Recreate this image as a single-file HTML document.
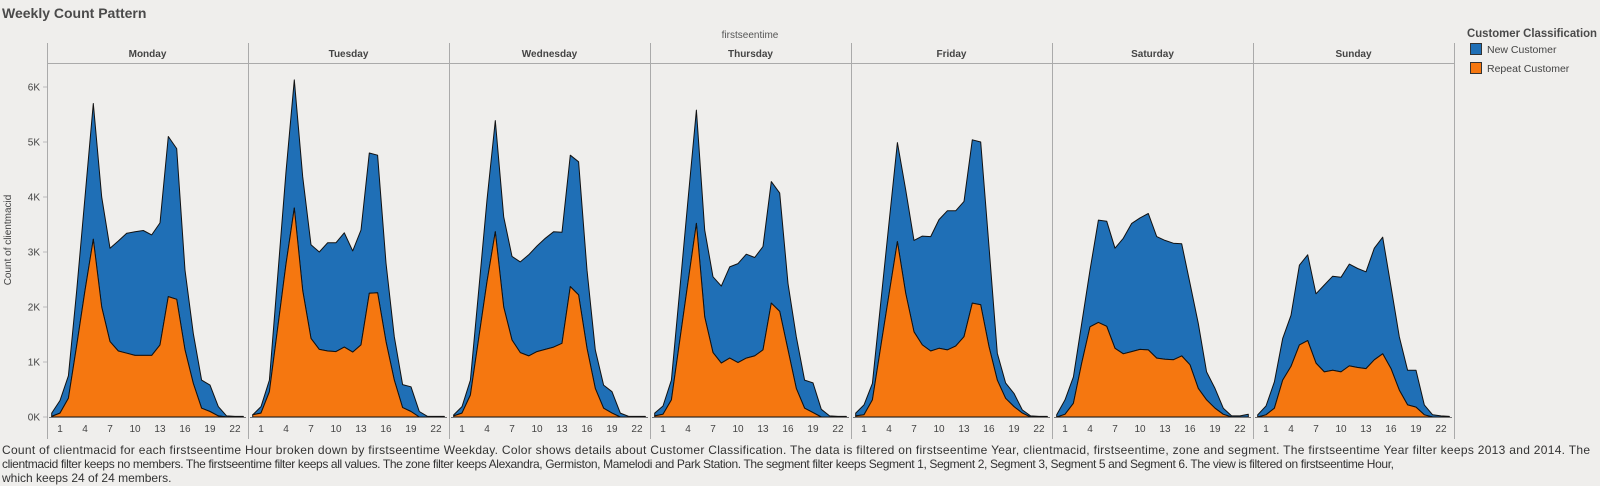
<!DOCTYPE html>
<html><head><meta charset="utf-8"><style>
html,body{margin:0;padding:0;background:#efeeec;}
svg{display:block;font-family:"Liberation Sans",Arial,sans-serif;}
</style></head><body>
<svg id="chart" width="1600" height="486" viewBox="0 0 1600 486">
<rect x="0" y="0" width="1600" height="486" fill="#efeeec"/>
<text x="2" y="18" font-size="14" font-weight="bold" fill="#4a4a4a">Weekly Count Pattern</text>
<text x="750" y="38" font-size="10" fill="#555" text-anchor="middle">firstseentime</text>
<text transform="translate(11,240) rotate(-90)" font-size="10" fill="#444" text-anchor="middle">Count of clientmacid</text>
<g id="legend">
<text x="1467" y="37" font-size="12" font-weight="bold" fill="#4a4a4a" textLength="130" lengthAdjust="spacingAndGlyphs">Customer Classification</text>
<rect x="1470.5" y="43.5" width="11" height="11" fill="#1f6fb6" stroke="#333"/>
<text x="1487" y="53" font-size="10.5" fill="#444">New Customer</text>
<rect x="1470.5" y="62.5" width="11" height="11" fill="#f57710" stroke="#333"/>
<text x="1487" y="72" font-size="10.5" fill="#444">Repeat Customer</text>
</g>
<g id="plot"></g>
<g font-size="12" fill="#333">
<text x="2" y="454" textLength="1588" lengthAdjust="spacing">Count of clientmacid for each firstseentime Hour broken down by firstseentime Weekday.  Color shows details about Customer Classification. The data is filtered on firstseentime Year, clientmacid, firstseentime, zone and segment. The firstseentime Year filter keeps 2013 and 2014. The</text>
<text x="2" y="468" textLength="1392" lengthAdjust="spacing">clientmacid filter keeps no members. The firstseentime filter keeps all values. The zone filter keeps Alexandra, Germiston, Mamelodi and Park Station. The segment filter keeps Segment 1, Segment 2, Segment 3, Segment 5 and Segment 6. The view is filtered on firstseentime Hour,</text>
<text x="2" y="482">which keeps 24 of 24 members.</text>
</g>
</svg>
<script>
const weekdays = ["Monday","Tuesday","Wednesday","Thursday","Friday","Saturday","Sunday"];
const hours = [0,1,2,3,4,5,6,7,8,9,10,11,12,13,14,15,16,17,18,19,20,21,22,23];
const xTickLabels = [1,4,7,10,13,16,19,22];
const yTickValues = [0,1,2,3,4,5,6];
const yTickLabels = ["0K","1K","2K","3K","4K","5K","6K"];
// stacked total (New + Repeat), thousands
const totalMonday    = [0.07,0.3,0.75,2.3,4.0,5.7,4.0,3.07,3.2,3.34,3.37,3.39,3.31,3.53,5.1,4.88,2.67,1.52,0.67,0.58,0.19,0.02,0.01,0.01];
const totalTuesday   = [0.04,0.19,0.67,2.56,4.46,6.13,4.37,3.13,3.0,3.17,3.17,3.35,3.02,3.4,4.8,4.76,2.8,1.46,0.59,0.55,0.1,0.01,0.01,0.01];
const totalWednesday = [0.04,0.19,0.67,2.3,3.95,5.39,3.64,2.92,2.82,2.95,3.11,3.25,3.37,3.36,4.76,4.64,2.67,1.22,0.58,0.46,0.07,0.01,0.01,0.01];
const totalThursday  = [0.07,0.2,0.67,2.3,3.95,5.58,3.4,2.55,2.38,2.73,2.79,2.96,2.9,3.1,4.28,4.07,2.43,1.46,0.67,0.62,0.14,0.02,0.01,0.01];
const totalFriday    = [0.07,0.22,0.61,2.07,3.53,4.99,4.13,3.21,3.29,3.28,3.59,3.75,3.75,3.92,5.04,5.0,3.1,1.16,0.62,0.43,0.13,0.02,0.01,0.01];
const totalSaturday  = [0.04,0.31,0.73,1.7,2.67,3.58,3.56,3.07,3.25,3.52,3.62,3.7,3.28,3.21,3.16,3.15,2.43,1.7,0.82,0.52,0.16,0.02,0.02,0.05];
const totalSunday    = [0.04,0.2,0.64,1.43,1.85,2.76,2.95,2.24,2.4,2.56,2.54,2.78,2.7,2.64,3.07,3.27,2.37,1.46,0.85,0.85,0.22,0.04,0.02,0.01];
// repeat customer, thousands
const repeatMonday    = [0.01,0.07,0.34,1.3,2.3,3.23,2.0,1.37,1.2,1.16,1.12,1.12,1.12,1.31,2.19,2.14,1.22,0.61,0.16,0.1,0.02,0,0,0];
const repeatTuesday   = [0.04,0.07,0.46,1.62,2.78,3.8,2.3,1.43,1.23,1.2,1.19,1.27,1.18,1.31,2.25,2.26,1.37,0.67,0.17,0.1,0,0,0,0];
const repeatWednesday = [0.02,0.07,0.4,1.43,2.46,3.37,2.0,1.4,1.17,1.11,1.19,1.23,1.27,1.34,2.37,2.22,1.25,0.52,0.16,0.07,0,0,0,0];
const repeatThursday  = [0.02,0.05,0.31,1.38,2.45,3.52,1.82,1.17,0.98,1.07,0.99,1.07,1.11,1.22,2.07,1.92,1.22,0.52,0.16,0.08,0,0,0,0];
const repeatFriday    = [0.02,0.04,0.31,1.27,2.23,3.19,2.25,1.55,1.31,1.2,1.25,1.22,1.29,1.46,2.07,2.04,1.28,0.67,0.34,0.19,0.07,0,0,0];
const repeatSaturday  = [0,0.05,0.25,0.98,1.64,1.72,1.65,1.25,1.15,1.19,1.23,1.22,1.07,1.05,1.04,1.11,0.95,0.52,0.31,0.16,0.05,0,0,0];
const repeatSunday    = [0,0.04,0.16,0.67,0.92,1.31,1.39,0.98,0.82,0.85,0.82,0.93,0.9,0.88,1.04,1.15,0.88,0.49,0.22,0.18,0.04,0,0,0];

const totals = [totalMonday,totalTuesday,totalWednesday,totalThursday,totalFriday,totalSaturday,totalSunday];
const repeats = [repeatMonday,repeatTuesday,repeatWednesday,repeatThursday,repeatFriday,repeatSaturday,repeatSunday];

const NS = "http://www.w3.org/2000/svg";
const plot = document.getElementById("plot");
const P0 = 47, PW = 201, BASE = 417, PXK = 55;
function yScale(v){ return BASE - v*PXK; }
function xScale(i,h){ return P0 + PW*i + 4.7 + h*8.33; }
function mk(tag, attrs, parent){
  const e = document.createElementNS(NS, tag);
  for (const k in attrs) e.setAttribute(k, attrs[k]);
  (parent||plot).appendChild(e);
  return e;
}
yTickValues.forEach((v,k)=>{
  const t = mk("text",{x:40,y:yScale(v)+3.5,"font-size":10,fill:"#444","text-anchor":"end"});
  
  
  t.textContent = yTickLabels[k];
  const l = mk("line",{x1:43,x2:47,y1:yScale(v),y2:yScale(v),stroke:"#bbb"});
  
  
});
const hl = mk("line",{x1:P0,x2:P0+PW*7,y1:63.5,y2:63.5,stroke:"#aaa"});


weekdays.forEach((d,i)=>{
  const left = P0 + PW*i;
  const g = mk("g",{});
  
  
  const hdr = mk("text",{x:left+PW/2,y:57,"font-size":10,"font-weight":"bold",fill:"#444","text-anchor":"middle"},g);
  
  
  hdr.textContent = d;
  const tot = totals[i], rep = repeats[i];
  let top = hours.map(h=>xScale(i,h).toFixed(1)+","+yScale(tot[h]).toFixed(1));
  let bot = hours.map(h=>xScale(i,h).toFixed(1)+","+yScale(rep[h]).toFixed(1));
  const newArea = mk("polygon",{points: top.join(" ")+" "+bot.slice().reverse().join(" "),fill:"#1f6fb6",stroke:"#111","stroke-width":1,"stroke-linejoin":"round"},g);
  
  
  const repArea = mk("polygon",{points: xScale(i,0).toFixed(1)+","+BASE+" "+bot.join(" ")+" "+xScale(i,23).toFixed(1)+","+BASE,fill:"#f57710",stroke:"#111","stroke-width":1,"stroke-linejoin":"round"},g);
  
  
  const bl = mk("line",{x1:left+2,x2:left+PW-2,y1:BASE+0.5,y2:BASE+0.5,stroke:"#777"},g);
  
  
  xTickLabels.forEach(h=>{
    const t = mk("text",{x:xScale(i,h),y:432,"font-size":10,fill:"#444","text-anchor":"middle"},g);
    
    
    t.textContent = h;
  });
});
for (let i=0;i<=7;i++){
  const v = mk("line",{x1:P0+PW*i+0.5,x2:P0+PW*i+0.5,y1:43,y2:439,stroke:"#aaa"});
  
  
}
</script>
</body></html>
